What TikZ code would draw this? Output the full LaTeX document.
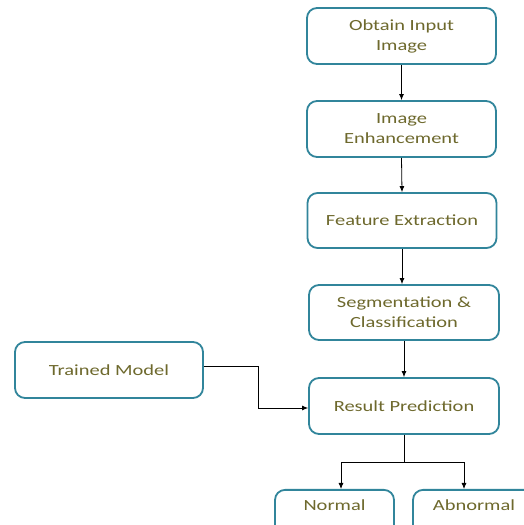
\documentclass[tikz,border=0pt]{standalone}
\usepackage{fontspec}
\setmainfont{Carlito}[FakeStretch=1.32]
\usetikzlibrary{arrows.meta,positioning,calc}
\definecolor{boxline}{RGB}{49,133,155}
\definecolor{boxtext}{RGB}{110,105,45}
\begin{document}
\begin{tikzpicture}[x=1pt,y=1pt,
  box/.style={draw=boxline,line width=1.8pt,rounded corners=10pt,fill=white,
    minimum width=189pt,minimum height=56pt,align=center,text=boxtext,
    font=\fontsize{15.5}{20}\selectfont,inner sep=2pt},
  cutbox/.style={box,minimum height=0pt,text height=11pt,text depth=14pt,inner ysep=10pt,anchor=north},
  arr/.style={-{Latex[length=6pt,width=5pt]},line width=0.8pt,black},
  ln/.style={line width=0.8pt,black}]
\useasboundingbox (0,0) rectangle (524,525);
\node[box] (b1) at (401.5,489) {Obtain Input\\Image};
\node[box] (b2) at (401.5,396) {Image\\Enhancement};
\node[box,minimum height=55pt] (b3) at (402,304.5) {Feature Extraction};
\node[box,minimum height=55pt,minimum width=190pt] (b4) at (404,212.5) {Segmentation \&\\Classification};
\node[box,minimum width=190pt] (res) at (404,119) {Result Prediction};
\node[box,minimum width=188pt] (tm) at (109,155) {Trained Model};
\node[cutbox,minimum width=119pt] (nor) at (334.5,36) {Normal};
\node[cutbox,minimum width=122pt] (abn) at (474,36) {Abnormal};
\draw[arr] (b1.south) -- (b2.north);
\draw[arr] (b2.south) -- (b3.north);
\draw[arr] (b3.south) -- (b3.south |- b4.north);
\draw[arr] (b4.south) -- (res.north);
\draw[arr] ([yshift=4pt]tm.east) -- ++(54pt,0) |- ([yshift=-2pt]res.west);
\draw[ln] (res.south) -- ++(0,-28pt) coordinate (split);
\draw[arr] (split) -| ([xshift=6.5pt]nor.north);
\draw[arr] (split) -| ([xshift=-10pt]abn.north);
\end{tikzpicture}
\end{document}
